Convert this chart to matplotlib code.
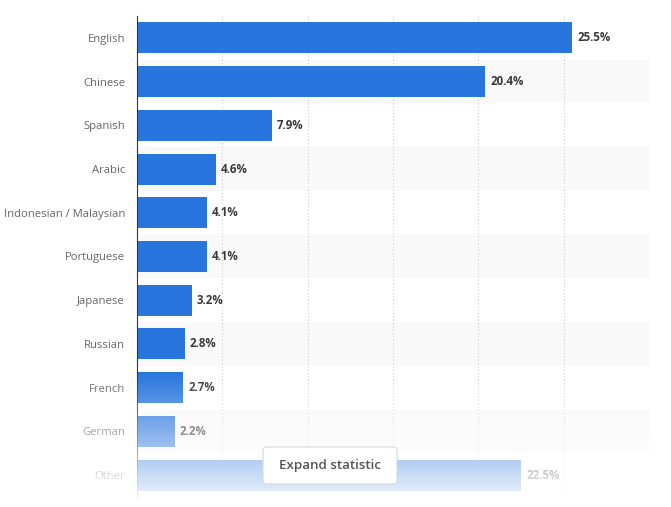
import numpy as np
import matplotlib
matplotlib.use('Agg')
import matplotlib.pyplot as plt
from matplotlib.patches import FancyBboxPatch

languages = ['English', 'Chinese', 'Spanish', 'Arabic', 'Indonesian / Malaysian',
             'Portuguese', 'Japanese', 'Russian', 'French', 'German', 'Other']
shares = [25.5, 20.4, 7.9, 4.6, 4.1, 4.1, 3.2, 2.8, 2.7, 2.2, 22.5]

plt.rcParams['font.family'] = ['Open Sans', 'DejaVu Sans']

fig = plt.figure(figsize=(6.71, 5.07), dpi=100)
ax = fig.add_axes([137 / 671, 1 - 497 / 507, 512 / 671, 481 / 507])

y = np.arange(len(languages))
# alternating row background
for i in y:
    if i % 2 == 1:
        ax.axhspan(i - 0.5, i + 0.5, color='#f9f9f9', zorder=0, lw=0)

ax.barh(y, shares, height=0.71, color='#2876dd', zorder=2)
for yi, v in zip(y, shares):
    ax.text(v + 0.3, yi, f'{v}%', va='center', ha='left', fontsize=8.3,
            fontweight='bold', color='#3a3a3a', zorder=3)

ax.set_xlim(0, 30)
ax.set_ylim(len(languages) - 0.5, -0.5)
ax.set_yticks(y)
ax.set_yticklabels(languages, fontsize=8.1, color='#666666')
ax.tick_params(axis='y', length=0, pad=8.5)
ax.set_xticks([5, 10, 15, 20, 25, 30])
ax.tick_params(axis='x', length=0, labelbottom=False)
ax.grid(axis='x', linestyle=(0, (1, 2)), color='#cccccc', lw=0.8, zorder=1)
for s in ['top', 'right', 'bottom']:
    ax.spines[s].set_visible(False)
ax.spines['left'].set_color('#333333')
ax.spines['left'].set_linewidth(0.8)

# white fade over the lower rows
ov = fig.add_axes([0, 0, 1, 1], zorder=5)
ov.axis('off')
h = 507
rows = np.arange(h)
alpha = np.clip((rows - 372) / (495 - 372), 0, 1) * 0.9
img = np.ones((h, 1, 4))
img[:, 0, 3] = alpha
ov.imshow(img, aspect='auto', extent=[0, 1, 0, 1], origin='upper')
ov.set_xlim(0, 1)
ov.set_ylim(0, 1)

# "Expand statistic" button
btn = fig.add_axes([0, 0, 1, 1], zorder=6)
btn.axis('off')
btn.set_xlim(0, 671)
btn.set_ylim(507, 0)
box = FancyBboxPatch((263, 447), 134, 37, boxstyle='round,pad=0,rounding_size=3',
                     facecolor='white', edgecolor='#d8d8d8', lw=0.8)
btn.add_patch(box)
btn.text(330, 466, 'Expand statistic', ha='center', va='center', fontsize=9.6,
         fontweight='semibold', color='#555555')

fig.savefig('out.png', dpi=100)
